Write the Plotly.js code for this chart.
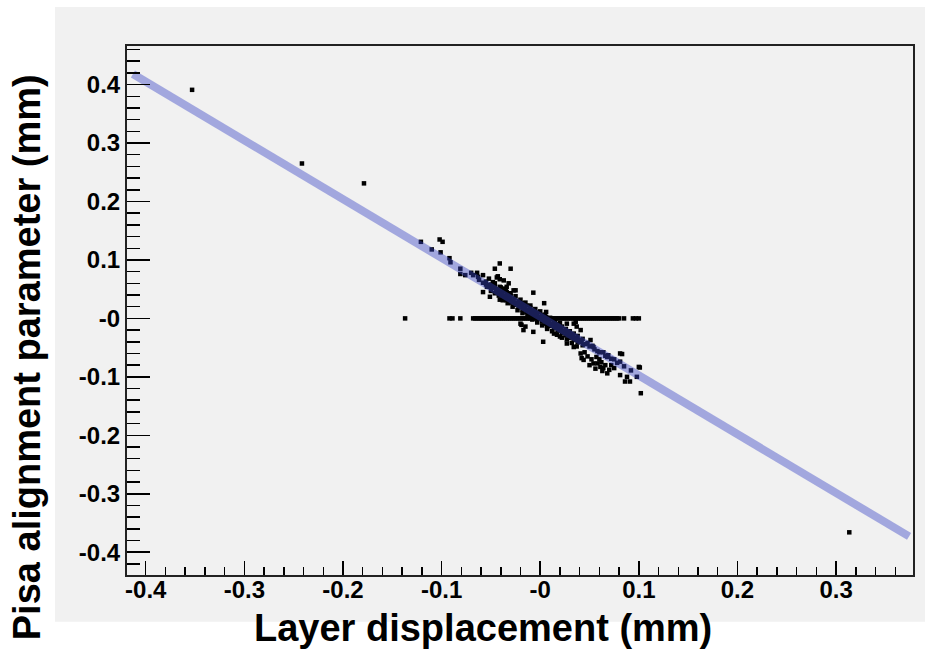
<!DOCTYPE html>
<html>
<head>
<meta charset="utf-8">
<script src="https://cdn.plot.ly/plotly-3.0.1.min.js"></script>
<style>html,body{margin:0;padding:0;background:#fff;}#chart{width:936px;height:657px;}</style>
</head>
<body>
<div id="chart"></div>
<script>
// ---- data ----
const outlierX = [-0.353, -0.2416, -0.1787, 0.3134, -0.137];
const outlierY = [0.391, 0.265, 0.231, -0.366, 0.0];

const zeroRowX = [-0.092, -0.089, -0.081,
  -0.068, -0.066, -0.064, -0.062, -0.060, -0.058, -0.056, -0.054, -0.052, -0.050,
  -0.048, -0.046, -0.044, -0.042, -0.040, -0.038, -0.036, -0.034, -0.032, -0.030,
  -0.028, -0.026, -0.024, -0.022, -0.020, -0.018, -0.016, -0.014, -0.012, -0.010,
  -0.008, -0.006, -0.004, -0.002, 0.000, 0.002, 0.004, 0.006, 0.008, 0.010,
  0.012, 0.014, 0.016, 0.018, 0.020, 0.022, 0.024, 0.026, 0.028, 0.030,
  0.032, 0.034, 0.036, 0.038, 0.040, 0.042, 0.044, 0.046, 0.048, 0.050,
  0.052, 0.054, 0.056, 0.058, 0.060, 0.062, 0.064, 0.066, 0.068, 0.070,
  0.072, 0.074, 0.076, 0.078, 0.080,
  0.085, 0.094, 0.097, 0.100];
const zeroRowY = [0,0,0,
  0,0,0,0,0,0,0,0,0,0, 0,0,0,0,0,0,0,0,0,0, 0,0,0,0,0,0,0,0,0,0,
  0,0,0,0,0,0,0,0,0,0, 0,0,0,0,0,0,0,0,0,0, 0,0,0,0,0,0,0,0,0,0,
  0,0,0,0,0,0,0,0,0,0, 0,0,0,0,0, 0,0,0,0];

// scattered points around the cluster
const clusterX = [-0.121,-0.110,-0.102,-0.099,-0.101,-0.092,-0.091,-0.081,-0.081,-0.076,-0.070,-0.068,-0.064,-0.063,-0.058,-0.055,-0.051,-0.046,-0.041,-0.046,-0.030,-0.043,-0.041,-0.058,-0.051,-0.041,-0.037,-0.034,-0.025,-0.007,0.004,0.006,
  -0.019,-0.017,-0.007,0.003,0.007,0.014,0.020,0.027,0.034,0.041,0.044,0.054,0.061,0.068,0.081,0.091,0.102,0.100,0.081,0.034,0.041,0.027,
  0.036,0.037,0.051,0.054,0.042,0.058,0.064,0.068,0.083,0.088,0.101,0.098,0.086,-0.020,-0.015,-0.034,-0.027,
  0.045,0.048,0.052,0.057,0.062,0.066,0.070,0.075,0.063,0.056,0.050,0.060,0.072,
  -0.044,-0.037,-0.032,-0.041,-0.054,-0.048,-0.052];
const clusterY = [0.131,0.118,0.135,0.131,0.113,0.103,0.096,0.085,0.076,0.074,0.078,0.074,0.078,0.071,0.074,0.063,0.057,0.060,0.094,0.085,0.085,0.072,0.067,0.045,0.037,0.032,0.051,0.045,0.048,0.044,0.026,0.011,
  -0.011,-0.020,-0.023,-0.040,-0.014,-0.026,-0.031,-0.043,-0.049,-0.060,-0.071,-0.077,-0.083,-0.094,-0.097,-0.108,-0.128,-0.083,-0.060,-0.009,-0.020,-0.009,
  -0.006,-0.014,-0.037,-0.049,-0.068,-0.077,-0.085,-0.066,-0.061,-0.100,-0.084,-0.100,-0.108,-0.009,-0.014,0.054,0.048,
  -0.058,-0.065,-0.070,-0.066,-0.075,-0.080,-0.088,-0.085,-0.090,-0.086,-0.080,-0.070,-0.080,
  0.070,0.065,0.060,0.054,0.054,0.062,0.068];

// points lying along the fitted band (dense core)
const bandX = [-0.062,-0.058,-0.055,-0.051,-0.048,-0.045,-0.042,-0.039,-0.036,-0.033,-0.030,-0.027,-0.024,-0.021,-0.018,-0.015,-0.012,-0.009,-0.006,-0.003,0.000,0.003,0.006,0.009,0.012,0.015,0.018,0.021,0.024,0.027,0.030,0.033,0.036,0.039,0.042,0.046,0.050,0.055,0.060,0.066,0.072,0.078,0.085,0.092,
  -0.050,-0.046,-0.042,-0.038,-0.034,-0.030,-0.026,-0.022,-0.018,-0.014,-0.010,-0.006,-0.002,0.002,0.006,0.010,0.014,0.018,0.022,0.026,0.030,0.034,0.038,0.043,
  -0.050,-0.046,-0.042,-0.038,-0.034,-0.030,-0.026,-0.022,-0.018,-0.014,-0.010,-0.006,-0.002,0.002,0.006,0.010,0.014,0.018,0.022,0.026,0.030,0.034,0.038,0.043,
  -0.040,-0.035,-0.030,-0.025,-0.020,-0.015,-0.010,-0.005,0.000,0.005,0.010,0.015,0.020,
  -0.038,-0.033,-0.028,-0.023,-0.018,-0.013,-0.008,-0.003,0.002,0.007,0.012,0.017,0.022,0.027,0.032,0.037,
  0.048,0.053,0.058,0.064,0.069,0.075,0.081];
const bandY = [0.066,0.061,0.058,0.054,0.052,0.048,0.045,0.041,0.038,0.035,0.032,0.029,0.026,0.023,0.020,0.017,0.014,0.011,0.008,0.005,0.002,-0.001,-0.004,-0.007,-0.010,-0.013,-0.016,-0.019,-0.022,-0.025,-0.028,-0.031,-0.034,-0.037,-0.040,-0.044,-0.048,-0.053,-0.058,-0.064,-0.069,-0.076,-0.082,-0.089,
  0.058,0.054,0.050,0.046,0.042,0.038,0.034,0.030,0.026,0.022,0.018,0.014,0.010,0.006,0.002,-0.002,-0.006,-0.010,-0.014,-0.018,-0.022,-0.026,-0.030,-0.035,
  0.047,0.043,0.039,0.035,0.031,0.027,0.023,0.019,0.015,0.011,0.007,0.003,-0.001,-0.005,-0.009,-0.013,-0.017,-0.021,-0.025,-0.029,-0.033,-0.037,-0.041,-0.046,
  0.053,0.049,0.043,0.038,0.032,0.027,0.022,0.016,0.012,0.006,0.001,-0.003,-0.008,
  0.031,0.026,0.020,0.014,0.009,0.004,-0.002,-0.007,-0.012,-0.018,-0.022,-0.028,-0.033,-0.036,-0.042,-0.048,
  -0.042,-0.047,-0.056,-0.058,-0.063,-0.070,-0.074];

// fitted straight line (end points)
const fitX = [-0.413, 0.374];
const fitY = [0.418, -0.373];

const xTickVals = [-0.4, -0.3, -0.2, -0.1, 0, 0.1, 0.2, 0.3];
const xTickText = ['-0.4', '-0.3', '-0.2', '-0.1', '-0', '0.1', '0.2', '0.3'];
const yTickVals = [-0.4, -0.3, -0.2, -0.1, 0, 0.1, 0.2, 0.3, 0.4];
const yTickText = ['-0.4', '-0.3', '-0.2', '-0.1', '-0', '0.1', '0.2', '0.3', '0.4'];

const xTitle = 'Layer displacement (mm)';
const yTitle = 'Pisa alignment parameter (mm)';

// ---- drawing ----
const FONT = 'Liberation Sans, Arial, Helvetica, sans-serif';
const marker = {symbol: 'square', size: 4.5, color: '#000', line: {width: 0}};

const traces = [
  {x: zeroRowX, y: zeroRowY, type: 'scatter', mode: 'markers', marker: marker, hoverinfo: 'x+y'},
  {x: bandX, y: bandY, type: 'scatter', mode: 'markers', marker: marker, hoverinfo: 'x+y'},
  {x: clusterX, y: clusterY, type: 'scatter', mode: 'markers', marker: marker, hoverinfo: 'x+y'},
  {x: outlierX, y: outlierY, type: 'scatter', mode: 'markers', marker: marker, hoverinfo: 'x+y'},
  {x: fitX, y: fitY, type: 'scatter', mode: 'lines', line: {color: 'rgba(58,70,198,0.43)', width: 8}, hoverinfo: 'skip'}
];

const axisCommon = {
  showgrid: false, zeroline: false, showline: true, linecolor: '#222', linewidth: 2, mirror: true,
  ticks: 'inside', tickcolor: '#000', tickwidth: 1.5, tickmode: 'array',
  tickfont: {family: FONT, size: 24, color: '#000', weight: 'bold'}
};

const layout = {
  width: 936, height: 657,
  margin: {l: 127, r: 23, t: 46, b: 82},
  paper_bgcolor: '#ffffff',
  plot_bgcolor: '#f1f1f1',
  showlegend: false,
  xaxis: Object.assign({}, axisCommon, {
    range: [-0.419, 0.378], tickvals: xTickVals, ticktext: xTickText, ticklen: 14, ticklabelstandoff: -8,
    minor: {tick0: 0, dtick: 0.02, ticks: 'inside', ticklen: 8, tickwidth: 1.5, tickcolor: '#000', showgrid: false}
  }),
  yaxis: Object.assign({}, axisCommon, {
    range: [-0.439, 0.466], tickvals: yTickVals, ticktext: yTickText, ticklen: 23,
    minor: {tick0: 0, dtick: 0.02, ticks: 'inside', ticklen: 13, tickwidth: 1.5, tickcolor: '#000', showgrid: false}
  }),
  shapes: [{
    type: 'rect', xref: 'paper', yref: 'paper', layer: 'below',
    x0: -0.0916, x1: 1.0153, y0: -0.0883, y1: 1.0737,
    fillcolor: '#f1f1f1', line: {width: 0}
  }],
  annotations: [
    {text: xTitle, xref: 'paper', yref: 'paper', x: 0.453, y: -0.100, xanchor: 'center', yanchor: 'middle',
     showarrow: false, font: {family: FONT, size: 38, color: '#000', weight: 'bold'}},
    {text: yTitle, xref: 'paper', yref: 'paper', x: -0.127, y: 0.412, xanchor: 'center', yanchor: 'middle',
     textangle: -90, showarrow: false, font: {family: FONT, size: 38, color: '#000', weight: 'bold'}}
  ]
};

Plotly.newPlot('chart', traces, layout, {staticPlot: true, displayModeBar: false});
</script>
</body>
</html>
